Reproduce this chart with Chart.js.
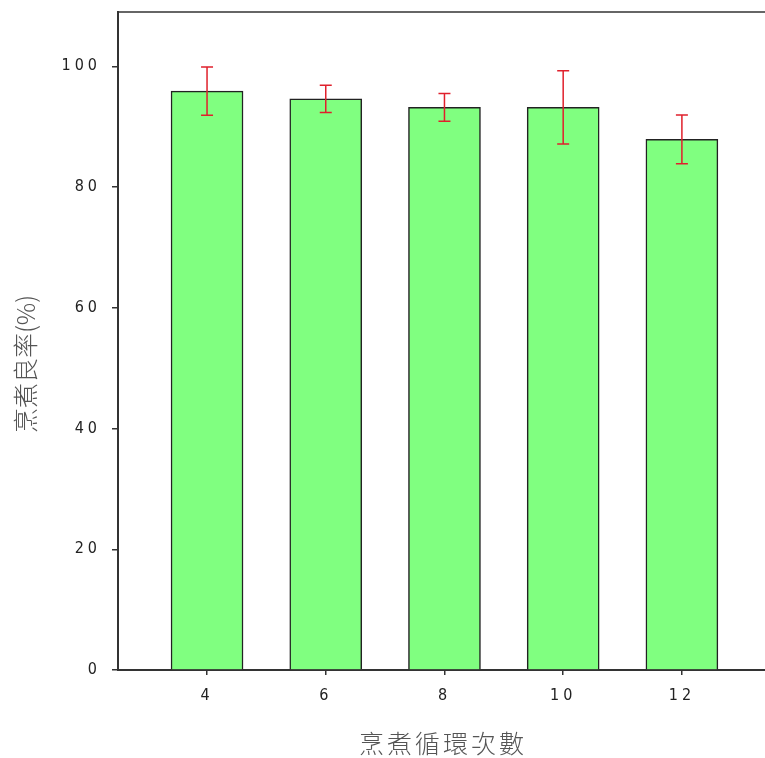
<!DOCTYPE html>
<html>
<head>
<meta charset="utf-8">
<script src="https://cdn.jsdelivr.net/npm/chart.js@4"></script>
<style>
  body { margin: 0; background: #fff; }
  #wrap { width: 765px; height: 758px; }
</style>
</head>
<body>
<div id="wrap"><canvas id="myChart" width="765" height="758"></canvas></div>
<script>
const cycles = [4, 6, 8, 10, 12];
const yieldMean = [95.9, 94.6, 93.2, 93.2, 87.9];
const yieldErr = [4.0, 2.25, 2.3, 6.05, 4.05];
const yTicks = [0, 20, 40, 60, 80, 100];

const xTitle = '烹煮循環次數';
const yTitle = '烹煮良率(%)';

const tickFont = { family: '"Liberation Sans Narrow", "DejaVu Sans Condensed", sans-serif', size: 16 };
const titleFont = '300 25px "Noto Sans CJK TC", sans-serif';

// error bars, top frame line and axis titles
const extras = {
  id: 'extras',
  beforeDraw(chart) {
    chart.ctx.letterSpacing = '4px';
  },
  afterDatasetsDraw(chart) {
    const ctx = chart.ctx;
    const xs = chart.scales.x, ys = chart.scales.y;
    ctx.save();
    ctx.strokeStyle = '#e0202c';
    ctx.lineWidth = 1.5;
    cycles.forEach((c, i) => {
      const x = xs.getPixelForValue(c);
      const t = ys.getPixelForValue(yieldMean[i] + yieldErr[i]);
      const b = ys.getPixelForValue(yieldMean[i] - yieldErr[i]);
      ctx.beginPath();
      ctx.moveTo(x, t); ctx.lineTo(x, b);
      ctx.moveTo(x - 6, t); ctx.lineTo(x + 6, t);
      ctx.moveTo(x - 6, b); ctx.lineTo(x + 6, b);
      ctx.stroke();
    });
    ctx.restore();
  },
  afterDraw(chart) {
    const ctx = chart.ctx;
    const a = chart.chartArea;
    ctx.save();
    ctx.strokeStyle = '#333';
    ctx.lineWidth = 1.5;
    ctx.beginPath();
    ctx.moveTo(a.left, a.top); ctx.lineTo(chart.width, a.top);
    ctx.stroke();

    ctx.fillStyle = '#555';
    ctx.font = titleFont;
    ctx.letterSpacing = '3px';
    ctx.textAlign = 'center';
    ctx.textBaseline = 'middle';
    ctx.fillText(xTitle, 443, 743);

    ctx.letterSpacing = '0px';
    ctx.translate(25, 364);
    ctx.rotate(-Math.PI / 2);
    ctx.fillText(yTitle, 0, 0);
    ctx.restore();
  }
};

new Chart(document.getElementById('myChart'), {
  type: 'bar',
  data: {
    datasets: [{
      data: cycles.map((c, i) => ({ x: c, y: yieldMean[i] })),
      backgroundColor: '#80ff80',
      borderColor: '#222',
      borderWidth: 1.5,
      barThickness: 72
    }]
  },
  options: {
    responsive: false,
    animation: false,
    layout: { padding: { top: 12, left: 0, right: 0, bottom: 0 } },
    plugins: {
      legend: { display: false },
      tooltip: { enabled: false }
    },
    scales: {
      x: {
        type: 'linear',
        offset: false,
        min: 2.5,
        max: 13.4,
        afterBuildTicks: s => { s.ticks = cycles.map(v => ({ value: v })); },
        afterFit: s => { s.height = 88; s.paddingLeft = 0; s.paddingRight = 0; },
        grid: { offset: false, drawOnChartArea: false, tickLength: 5, color: '#333', lineWidth: 1.5 },
        border: { color: '#333', width: 2 },
        ticks: { font: tickFont, color: '#222', padding: 11, maxRotation: 0 }
      },
      y: {
        min: 0,
        max: 109,
        afterBuildTicks: s => { s.ticks = yTicks.map(v => ({ value: v })); },
        afterFit: s => { s.width = 118; s.paddingTop = 0; s.paddingBottom = 0; },
        grid: { drawOnChartArea: false, tickLength: 6, color: '#333', lineWidth: 1.5 },
        border: { color: '#333', width: 2 },
        ticks: { font: tickFont, color: '#222', padding: 11 }
      }
    }
  },
  plugins: [extras]
});
</script>
</body>
</html>
